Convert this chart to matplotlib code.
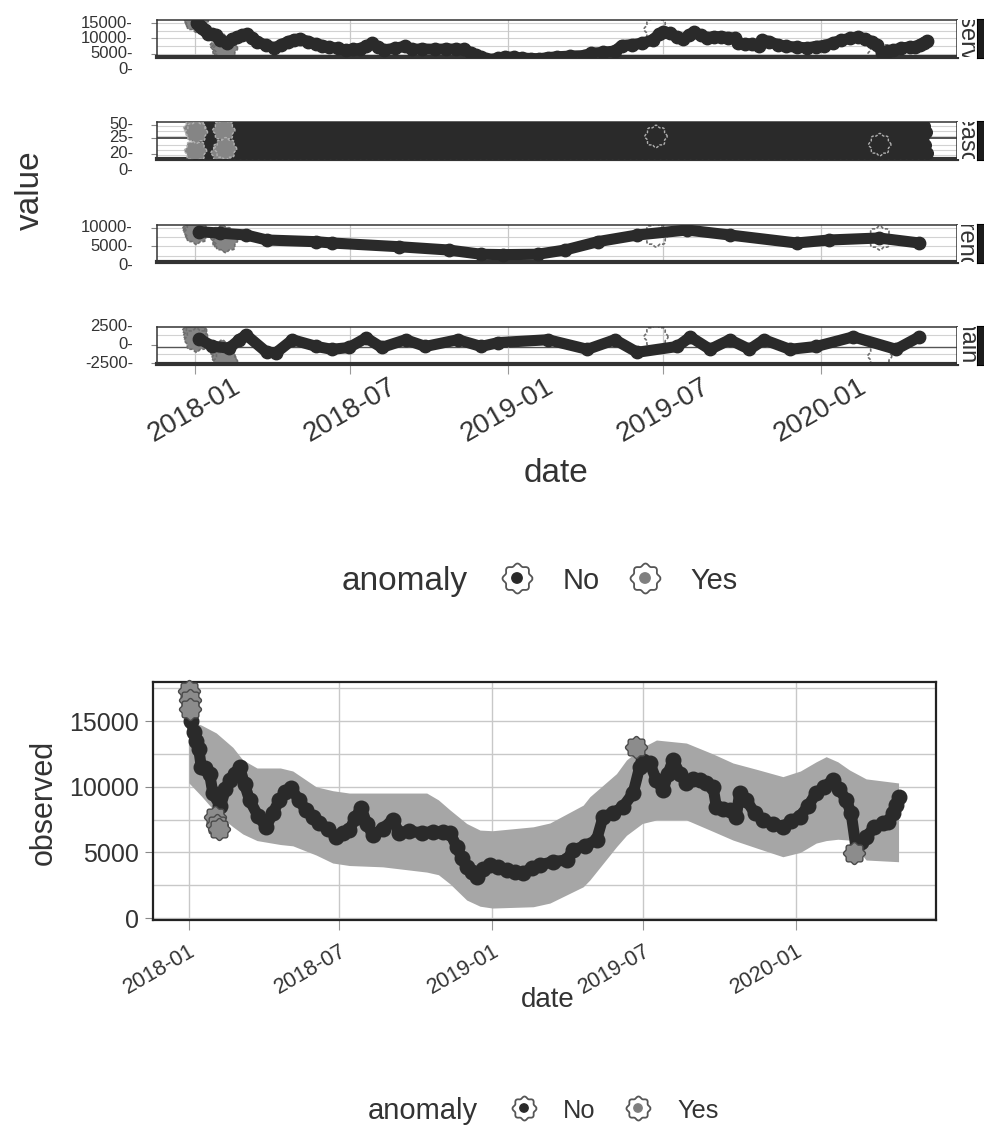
import numpy as np
import matplotlib
matplotlib.use("Agg")
import matplotlib.pyplot as plt
import matplotlib.dates as mdates
import matplotlib.transforms as mtransforms
from matplotlib.path import Path

plt.rcParams['font.family'] = ['Liberation Sans', 'DejaVu Sans']

W, H = 984, 1131
start = np.datetime64('2018-01-01')

# observed values that are not anomalies (days counted from 2018-01-01)
obs_days = [3, 6, 9, 12, 15, 20, 25, 29, 38, 44, 49, 55, 61, 67, 73, 83, 93, 101, 109, 116,
            123, 132, 141, 149, 157, 167, 177, 185, 193, 200, 207, 214, 221, 233, 245, 253,
            265, 280, 293, 305, 314, 322, 328, 334, 340, 346, 354, 362, 372, 382, 392, 402,
            412, 422, 438, 454, 462, 476, 490, 498, 510, 522, 534, 542, 546, 554, 562, 570,
            576, 582, 590, 598, 606, 614, 622, 630, 634, 642, 650, 658, 662, 670, 680, 690,
            702, 714, 724, 734, 744, 754, 764, 774, 782, 790, 796, 802, 808, 814, 824, 834,
            840, 846, 850, 854]
obs_vals = [15000, 14200, 13500, 12900, 11500, 11400, 11000, 9500, 8500, 9800, 10500, 11000,
            11500, 10200, 9000, 7800, 6950, 8000, 9000, 9600, 9900, 9000, 8230, 7700, 7240,
            6800, 6200, 6500, 6700, 7600, 8380, 7200, 6320, 6800, 7470, 6480, 6600, 6500,
            6580, 6550, 6480, 5430, 4600, 3910, 3500, 3150, 3700, 4040, 3900, 3660, 3500,
            3430, 3800, 4040, 4300, 4420, 5180, 5500, 5940, 7720, 8000, 8480, 9520, 11530,
            12000, 11800, 10500, 9750, 11000, 12040, 11000, 10290, 10600, 10520, 10300,
            10000, 8480, 8300, 8200, 7720, 9520, 9000, 8000, 7470, 7200, 6950, 7400, 7720,
            8500, 9520, 10000, 10520, 9800, 9000, 8000, 5300, 5800, 6200, 6900, 7240, 7300,
            8000, 8600, 9240]

# anomalies
anom_days = [0, 1, 2, 32, 34, 36, 538, 799]
anom_vals = [17300, 16600, 15900, 7700, 7100, 6800, 13000, 4950]

# lower / upper band around the trend
band_days = [0, 15, 33, 53, 65, 82, 110, 125, 153, 173, 193, 233, 286, 300, 314, 334, 350,
             365, 414, 434, 474, 482, 514, 526, 545, 562, 598, 630, 654, 684, 714, 735,
             754, 766, 780, 794, 814, 853]
band_upper = [15000, 14700, 14100, 13000, 12040, 11430, 11430, 11200, 10000, 9700, 9520,
              9520, 9520, 9000, 8230, 7200, 6700, 6650, 6950, 7240, 8600, 9240, 11000,
              12040, 13000, 13560, 13330, 12500, 11810, 11300, 10770, 11200, 11900, 12290,
              11900, 11280, 10600, 10290]
band_lower = [10300, 9300, 8000, 6950, 6400, 5900, 5600, 5500, 4800, 4190, 4000, 3900,
              3500, 3300, 2600, 1370, 900, 760, 860, 1140, 2380, 2900, 5430, 6300, 7200,
              7470, 7470, 6600, 5940, 5300, 4670, 5000, 5710, 5900, 6000, 5940, 4420, 4290]

# trend component
trend_days = [5, 30, 60, 84, 142, 160, 238, 296, 334, 360, 400, 432, 470, 516, 574, 624,
              702, 740, 798, 845]
trend_vals = [9000, 8600, 8100, 6750, 6290, 5940, 4940, 4050, 2900, 2800, 2900, 4050,
              6300, 8100, 9450, 8100, 5940, 6750, 7290, 5940]
trend_anom_vals = [9800, 9300, 8800, 7600, 7100, 6600, 8100, 7290]

# remainder component
rem_days = [5, 20, 40, 52, 60, 84, 95, 114, 142, 160, 180, 200, 218, 246, 269, 307, 334,
            354, 412, 458, 490, 516, 563, 578, 601, 624, 647, 664, 694, 725, 768, 818, 845]
rem_vals = [800, -200, -500, 650, 1300, -1050, -1100, 650, -260, -650, -400, 900, -400, 650,
            -260, 650, -260, 260, 650, -650, 650, -1050, -260, 1040, -650, 650, -650, 650,
            -650, -260, 1040, -650, 1040]
rem_anom_vals = [1900, 1200, 600, -1000, -1800, -2300, 1040, -1560]

# weekly seasonal pattern
season_week = [-30, 25, 10, -20, 35, -10, 20]
season_anom_vals = [30, -25, 20, -30, 25, -20, 10, -10]

panel_names = ['observed', 'season', 'trend', 'remainder']
top_tick_labels = [['15000', '10000', '5000', '0'], ['50', '25', '20', '0'],
                   ['10000', '5000', '0'], ['2500', '0', '-2500']]
obs_ticks = [15000, 10000, 5000, 0]
trend_ticks = [10000, 5000, 0]
rem_ticks = [2500, 0, -2500]
season_tick_frac = [0.92, 0.57, 0.14, -0.30]
legend_labels = ['No', 'Yes']


def to_dates(days):
    return start + np.asarray(days).astype('timedelta64[D]')


def rect(x0, y0, x1, y1):
    return [x0 / W, 1 - y1 / H, (x1 - x0) / W, (y1 - y0) / H]


th = np.linspace(0, 2 * np.pi, 97)
rr = 1 + 0.09 * np.cos(8 * th)
flower = Path(np.column_stack([rr * np.cos(th), rr * np.sin(th)]))

BLACK = '#2a2a2a'
anom_faces = ['#858585'] * 6 + ['none'] * 2
fig = plt.figure(figsize=(W / 100, H / 100), dpi=100)

top_boxes = [(157, 20, 957, 57), (157, 122, 957, 159), (157, 225, 957, 262), (157, 327, 957, 364)]
top_xlim = (start - np.timedelta64(44, 'D'), start + np.timedelta64(889, 'D'))
axes = []
for i, (x0, y0, x1, y1) in enumerate(top_boxes):
    ax = fig.add_axes(rect(x0, y0, x1, y1))
    ax.set_xlim(top_xlim)
    ax.xaxis.set_major_locator(mdates.MonthLocator(bymonth=[1, 7]))
    ax.xaxis.set_major_formatter(mdates.DateFormatter('%Y-%m'))
    ax.grid(axis='x', color='#c8c8c8', lw=0.9, zorder=0)
    for s in ax.spines.values():
        s.set_color('#333333')
        s.set_linewidth(1.1)
    ax.spines['bottom'].set_linewidth(3)
    ax.tick_params(axis='y', length=4, color='#888888', labelleft=False)
    if i < 3:
        ax.tick_params(axis='x', length=0, labelbottom=False)
    axes.append(ax)

    # strip on the right (label is cut by the figure edge, as in the original)
    sax = fig.add_axes(rect(957, y0, 977, y1))
    sax.set_xticks([])
    sax.set_yticks([])
    for s in sax.spines.values():
        s.set_visible(False)
    sax.text(0.45, 0.5, panel_names[i], rotation=-90, ha='center', va='center',
             fontsize=17, color='#333333', transform=sax.transAxes, clip_on=True)
    bax = fig.add_axes(rect(977, y0 - 1, 990, y1 + 1))
    bax.set_facecolor('#1c1c1c')
    bax.set_xticks([])
    bax.set_yticks([])

ad = to_dates(anom_days)
lab_font = dict(fontsize=12, color='#333333',
                family=['Liberation Sans Narrow', 'Liberation Sans', 'DejaVu Sans'])
anom_style = dict(marker=flower, s=300, facecolor=anom_faces, edgecolor='#6e6e6e', lw=1.2,
                  linestyle=(0, (2, 1)))

# observed panel
ax = axes[0]
ax.set_ylim(4000, 16000)
for v in [5000, 7500, 10000, 12500, 15000]:
    ax.axhline(v, color='#d2d2d2', lw=0.8, zorder=0)
ax.set_yticks([5000, 10000, 15000])
ax.scatter(ad, anom_vals, zorder=2, **anom_style)
ax.plot(to_dates(obs_days), obs_vals, color=BLACK, lw=8, solid_capstyle='round',
        solid_joinstyle='round', zorder=3)
ax.scatter(to_dates(obs_days), obs_vals, s=80, color=BLACK, zorder=3)
tr = mtransforms.blended_transform_factory(ax.transAxes, ax.transData)
for lab, v in zip(top_tick_labels[0], obs_ticks):
    ax.text(-0.03, v, lab + '-', transform=tr, ha='right', va='center', clip_on=False, **lab_font)

# season panel
ax = axes[1]
ax.set_ylim(-45, 45)
for v in [-36, -24, -12, 12, 24, 36]:
    ax.axhline(v, color='#d2d2d2', lw=0.8, zorder=0)
ax.axhline(6.3, color='#333333', lw=1.2, zorder=0)
ax.set_yticks([-32.4, 6.3, 37.8])
season_days = np.arange(0, 855)
season_vals = np.tile(season_week, len(season_days) // 7 + 1)[:len(season_days)]
ax.plot(to_dates(season_days), season_vals, color=BLACK, lw=4, zorder=3)
ax.scatter(to_dates(season_days), season_vals, s=70, color=BLACK, zorder=3)
ax.scatter(ad, season_anom_vals, marker=flower, s=260, facecolor=anom_faces,
           edgecolor='#b0b0b0', lw=1, linestyle=(0, (2, 1)), zorder=4)
for lab, f in zip(top_tick_labels[1], season_tick_frac):
    ax.text(-0.03, f, lab + '-', transform=ax.transAxes, ha='right', va='center',
            clip_on=False, **lab_font)

# trend panel
ax = axes[2]
ax.set_ylim(810, 10800)
for v in [2500, 5000, 7500, 10000]:
    ax.axhline(v, color='#d2d2d2', lw=0.8, zorder=0)
ax.set_yticks([5000, 10000])
ax.scatter(ad, trend_anom_vals, zorder=2, **anom_style)
ax.plot(to_dates(trend_days), trend_vals, color=BLACK, lw=8, solid_capstyle='round',
        solid_joinstyle='round', zorder=3)
ax.scatter(to_dates(trend_days), trend_vals, s=80, color=BLACK, zorder=3)
tr = mtransforms.blended_transform_factory(ax.transAxes, ax.transData)
for lab, v in zip(top_tick_labels[2], trend_ticks):
    ax.text(-0.03, v, lab + '-', transform=tr, ha='right', va='center', clip_on=False, **lab_font)

# remainder panel
ax = axes[3]
ax.set_ylim(-2630, 2370)
for v in [-1250, 1250]:
    ax.axhline(v, color='#d2d2d2', lw=0.8, zorder=0)
ax.axhline(-300, color='#555555', lw=1.0, zorder=0)
ax.set_yticks([-2500, 0])
ax.scatter(ad, rem_anom_vals, zorder=2, **anom_style)
ax.plot(to_dates(rem_days), rem_vals, color=BLACK, lw=8, solid_capstyle='round',
        solid_joinstyle='round', zorder=3)
ax.scatter(to_dates(rem_days), rem_vals, s=80, color=BLACK, zorder=3)
tr = mtransforms.blended_transform_factory(ax.transAxes, ax.transData)
for lab, v in zip(top_tick_labels[3], rem_ticks):
    ax.text(-0.03, v, lab + '-', transform=tr, ha='right', va='center', clip_on=False, **lab_font)
ax.tick_params(axis='x', length=7, color='#999999', labelsize=20, labelcolor='#333333',
               pad=0, labelrotation=30)
for lbl in ax.get_xticklabels():
    lbl.set_ha('center')

fig.text(30 / W, 1 - 190 / H, 'value', rotation=90, ha='center', va='center',
         fontsize=24, color='#333333')
fig.text(556 / W, 1 - 474 / H, 'date', ha='center', va='center', fontsize=24, color='#333333')


def legend_row(y, xs, size, ms):
    lax = fig.add_axes([0, 1 - (y + 25) / H, 1, 50 / H])
    lax.set_xlim(0, W)
    lax.set_ylim(-1, 1)
    lax.axis('off')
    lax.text(xs[0], 0, 'anomaly', ha='left', va='center_baseline', fontsize=size, color='#333333')
    lax.scatter([xs[1], xs[3]], [0, 0], marker=flower, s=ms, facecolor='white',
                edgecolor='#555555', lw=1.3)
    lax.scatter([xs[1], xs[3]], [0, 0], s=ms * 0.12, color=[BLACK, '#7f7f7f'])
    lax.text(xs[2], 0, legend_labels[0], ha='left', va='center_baseline', fontsize=size * 0.87,
             color='#333333')
    lax.text(xs[4], 0, legend_labels[1], ha='left', va='center_baseline', fontsize=size * 0.87,
             color='#333333')


legend_row(578, (342, 517, 563, 645, 690), 24, 466)

# bottom chart
bx = fig.add_axes(rect(153, 682, 936, 920))
bx.set_xlim(start - np.timedelta64(43, 'D'), start + np.timedelta64(898, 'D'))
bx.set_ylim(-150, 17980)
bx.xaxis.set_major_locator(mdates.MonthLocator(bymonth=[1, 7]))
bx.xaxis.set_major_formatter(mdates.DateFormatter('%Y-%m'))
bx.set_yticks([0, 5000, 10000, 15000])
bx.set_yticks([2500, 7500, 12500, 17500], minor=True)
bx.grid(which='both', color='#c8c8c8', lw=1.0, zorder=0)
bx.grid(axis='x', which='minor', visible=False)
bx.set_axisbelow(True)
for s in bx.spines.values():
    s.set_color('#222222')
    s.set_linewidth(1.6)
bx.tick_params(axis='y', which='major', length=6, color='#888888', labelsize=18,
               labelcolor='#333333', pad=4)
bx.tick_params(axis='y', which='minor', length=0)
bx.tick_params(axis='x', length=7, color='#999999', labelsize=15.5, labelcolor='#333333',
               pad=8, labelrotation=30)
for lbl in bx.get_xticklabels():
    lbl.set_ha('right')
    lbl.set_rotation_mode('anchor')

bx.fill_between(to_dates(band_days), band_lower, band_upper, color='#a6a6a6', lw=0, zorder=1)
bx.plot(to_dates(obs_days), obs_vals, color=BLACK, lw=8, solid_capstyle='round',
        solid_joinstyle='round', zorder=3)
bx.scatter(to_dates(obs_days), obs_vals, s=110, color=BLACK, zorder=3)
bx.scatter(ad, anom_vals, marker=flower, s=250, facecolor='#8c8c8c', edgecolor='#4a4a4a',
           lw=1.0, zorder=5, clip_on=False)

fig.text(44 / W, 1 - 802 / H, 'observed', rotation=90, ha='center', va='center',
         fontsize=22, color='#333333')
fig.text(548 / W, 1 - 1000 / H, 'date', ha='center', va='center', fontsize=20, color='#333333')

legend_row(1108, (368, 524, 563, 638, 677), 21, 300)

fig.savefig('out.png', dpi=100)
